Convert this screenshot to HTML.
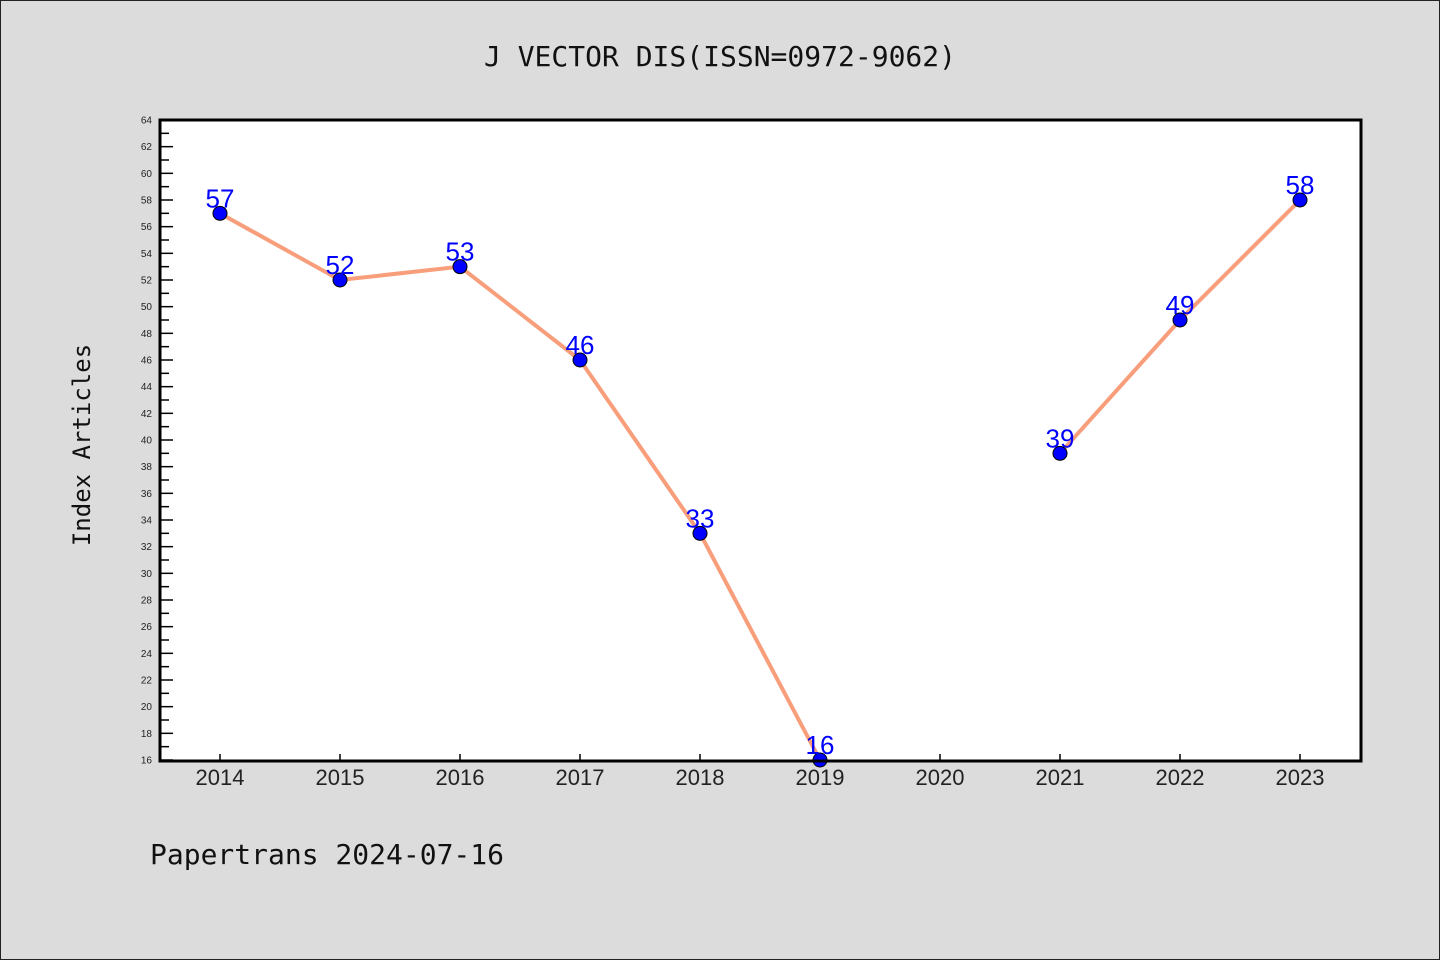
<!DOCTYPE html>
<html><head><meta charset="utf-8"><style>
body{margin:0;background:#dcdcdc;}
svg{display:block;font-family:"Liberation Sans","DejaVu Sans",sans-serif;}
</style></head><body>
<svg width="1440" height="960">
<rect x="0.5" y="0.5" width="1439" height="959" fill="#dcdcdc" stroke="#222"/>
<text x="720" y="66" text-anchor="middle" font-size="28" font-family="DejaVu Sans Mono, Liberation Mono, monospace" fill="#111">J VECTOR DIS(ISSN=0972-9062)</text>
<rect x="160" y="120" width="1201" height="641" fill="#fff"/>
<g id="ticks"></g>
<g id="marks"></g>
<rect x="160" y="120" width="1201" height="641" fill="none" stroke="#000" stroke-width="3"/>
<text x="90" y="445" transform="rotate(-90 90 445)" text-anchor="middle" font-size="24" font-family="DejaVu Sans Mono, Liberation Mono, monospace" fill="#111">Index Articles</text>
<text x="150" y="864" font-size="28" font-family="DejaVu Sans Mono, Liberation Mono, monospace" fill="#111">Papertrans 2024-07-16</text>
</svg>
<script>
const years=[2014,2015,2016,2017,2018,2019,2020,2021,2022,2023];
const values=[57,52,53,46,33,16,null,39,49,58];
const yMin=16,yMax=64;
const NS="http://www.w3.org/2000/svg";
function xs(i){return 220+i*120;}
function ys(v){return 760-(v-yMin)*(640/(yMax-yMin));}
function mk(t,a,p){const e=document.createElementNS(NS,t);for(const k in a)e.setAttribute(k,a[k]);p.appendChild(e);return e;}
const tg=document.getElementById('ticks'),mg=document.getElementById('marks');
for(let v=yMin;v<=yMax;v++){
  const y=ys(v),major=v%2===0;
  const l=mk('line',{x1:160,x2:major?173:169,y1:y,y2:y,stroke:'#000','stroke-width':1.5},tg);
  
  
  if(major){const t=mk('text',{x:152,y:y+3.5,'text-anchor':'end','font-size':10,fill:'#222'},tg);t.textContent=v;
  
  }
}
years.forEach((yr,i)=>{
  const l=mk('line',{x1:xs(i),x2:xs(i),y1:761,y2:754,stroke:'#000','stroke-width':1.5},tg);
  
  
  const t=mk('text',{x:xs(i),y:785,'text-anchor':'middle','font-size':22,fill:'#222'},tg);t.textContent=yr;
  
  
});
let seg=[];const segs=[];
values.forEach((v,i)=>{if(v==null){if(seg.length)segs.push(seg);seg=[];}else seg.push([xs(i),ys(v)]);});
if(seg.length)segs.push(seg);
segs.forEach(s=>{const p=mk('polyline',{points:s.map(q=>q.join(',')).join(' '),fill:'none',stroke:'#f89e7b','stroke-width':4},mg);
  
  });
values.forEach((v,i)=>{if(v==null)return;
  const c=mk('circle',{cx:xs(i),cy:ys(v),r:7,fill:'#0000ff',stroke:'#000','stroke-width':1},mg);
  
  
  const t=mk('text',{x:xs(i),y:ys(v)-6,'text-anchor':'middle','font-size':26,fill:'#0000ff'},mg);t.textContent=v;
  
  
});
</script>
</body></html>
